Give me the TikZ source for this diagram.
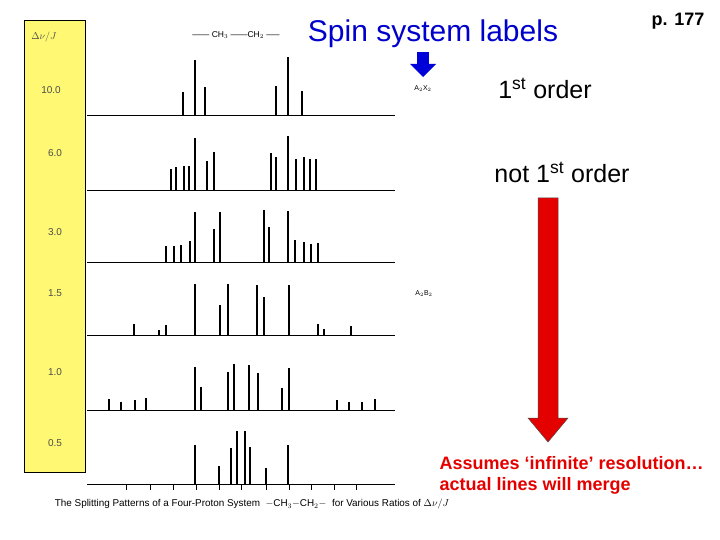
\documentclass[tikz,border=0pt]{standalone}
\usepackage{fontspec}
\setmainfont{Liberation Sans}
\usetikzlibrary{arrows.meta}
\begin{document}
\begin{tikzpicture}[x=1pt,y=-1pt,
  peak/.style={line width=1.3pt},
  base/.style={line width=0.8pt},
  axlab/.style={font=\fontsize{10}{11}\selectfont, text=black!70},
  small/.style={font=\fontsize{7}{8}\selectfont}]
\useasboundingbox (0,0) rectangle (720,540);
\fill[white] (0,0) rectangle (720,540);
\draw[fill=yellow!55!white, draw=black, line width=0.8pt] (24,20) rectangle (85,472);
\node[axlab] (h) at (44,37) {$\Delta\nu/J$};
\node[axlab] (l1) at (51,90) {10.0};
\node[axlab] (l2) at (55,153) {6.0};
\node[axlab] (l3) at (55,232) {3.0};
\node[axlab] (l4) at (55,293) {1.5};
\node[axlab] (l5) at (55,372) {1.0};
\node[axlab] (l6) at (55,443) {0.5};
\node[font=\fontsize{8.5}{9}\selectfont] (top) at (236,35) {------ CH$_3$ ------CH$_2$ -----};
\foreach \y in {115,190,262,335,410,484} \draw[base] (87,\y) -- (395,\y);
\foreach \x/\t in {183/92,195/60,205/87,276/86,288/57,302/91} \draw[peak] (\x,115) -- (\x,\t);
\foreach \x/\t in {171/169,176/167,184/166,189/166,195/138,207/161,214/152,271/153,276/157,288/136,296/159,304/157,310/159,316/159} \draw[peak] (\x,190) -- (\x,\t);
\foreach \x/\t in {166/246,174/246,181/245,190/241,195/212,214/229,220/212,264/210,269/227,288/211,295/240,304/242,311/244,318/243} \draw[peak] (\x,262) -- (\x,\t);
\foreach \x/\t in {134/324,159/330,166/325,195/284,220/305,228/284,257/285,264/297,289/285,318/324,324/329,351/326} \draw[peak] (\x,335) -- (\x,\t);
\foreach \x/\t in {109/399,121/402,135/400,146/398,195/367,201/387,228/372,234/364,249/365,258/373,282/388,289/368,337/400,349/402,362/402,375/399} \draw[peak] (\x,410) -- (\x,\t);
\foreach \x/\t in {195/445,219/466,231/448,237/431,245/431,250/447,266/468,288/445} \draw[peak] (\x,484) -- (\x,\t);
\foreach \x in {126,150,173,196,219,241,266,289,311,334,356} \draw[line width=0.8pt] (\x,484) -- (\x,490);
\node[font=\fontsize{9.9}{11}\selectfont] (cap) at (252,504) {The Splitting Patterns of a Four-Proton System \ $-$CH$_3-$CH$_2-$ \ for Various Ratios of $\Delta\nu/J$};
\node[small] (ax) at (423,89) {A$_2$X$_2$};
\node[small] (ab) at (424,294) {A$_2$B$_2$};
\node[text=blue!80!black, font=\fontsize{30}{34}\selectfont] (spin) at (433,34) {Spin system labels};
\fill[blue!85!black] (417,52) rectangle (429,64);
\fill[blue!85!black] (410,64) -- (423,77) -- (436,64) -- cycle;
\node[font=\bfseries\fontsize{18}{20}\selectfont] (page) at (678,21) {p. 177};
\node[font=\fontsize{25}{28}\selectfont] (first) at (545,88) {1\textsuperscript{st} order};
\node[font=\fontsize{25}{28}\selectfont] (notfirst) at (562,172) {not 1\textsuperscript{st} order};
\draw[fill=red!90!black, draw=black!70, line width=0.5pt]
  (538,198) -- (558,198) -- (558,418) -- (568,418) -- (548,442) -- (528,418) -- (538,418) -- cycle;
\node[text=red!90!black, font=\bfseries\fontsize{18}{21}\selectfont, align=left, anchor=west] (res) at (436,475) {Assumes ‘infinite’ resolution…\\actual lines will merge};
\end{tikzpicture}
\end{document}
